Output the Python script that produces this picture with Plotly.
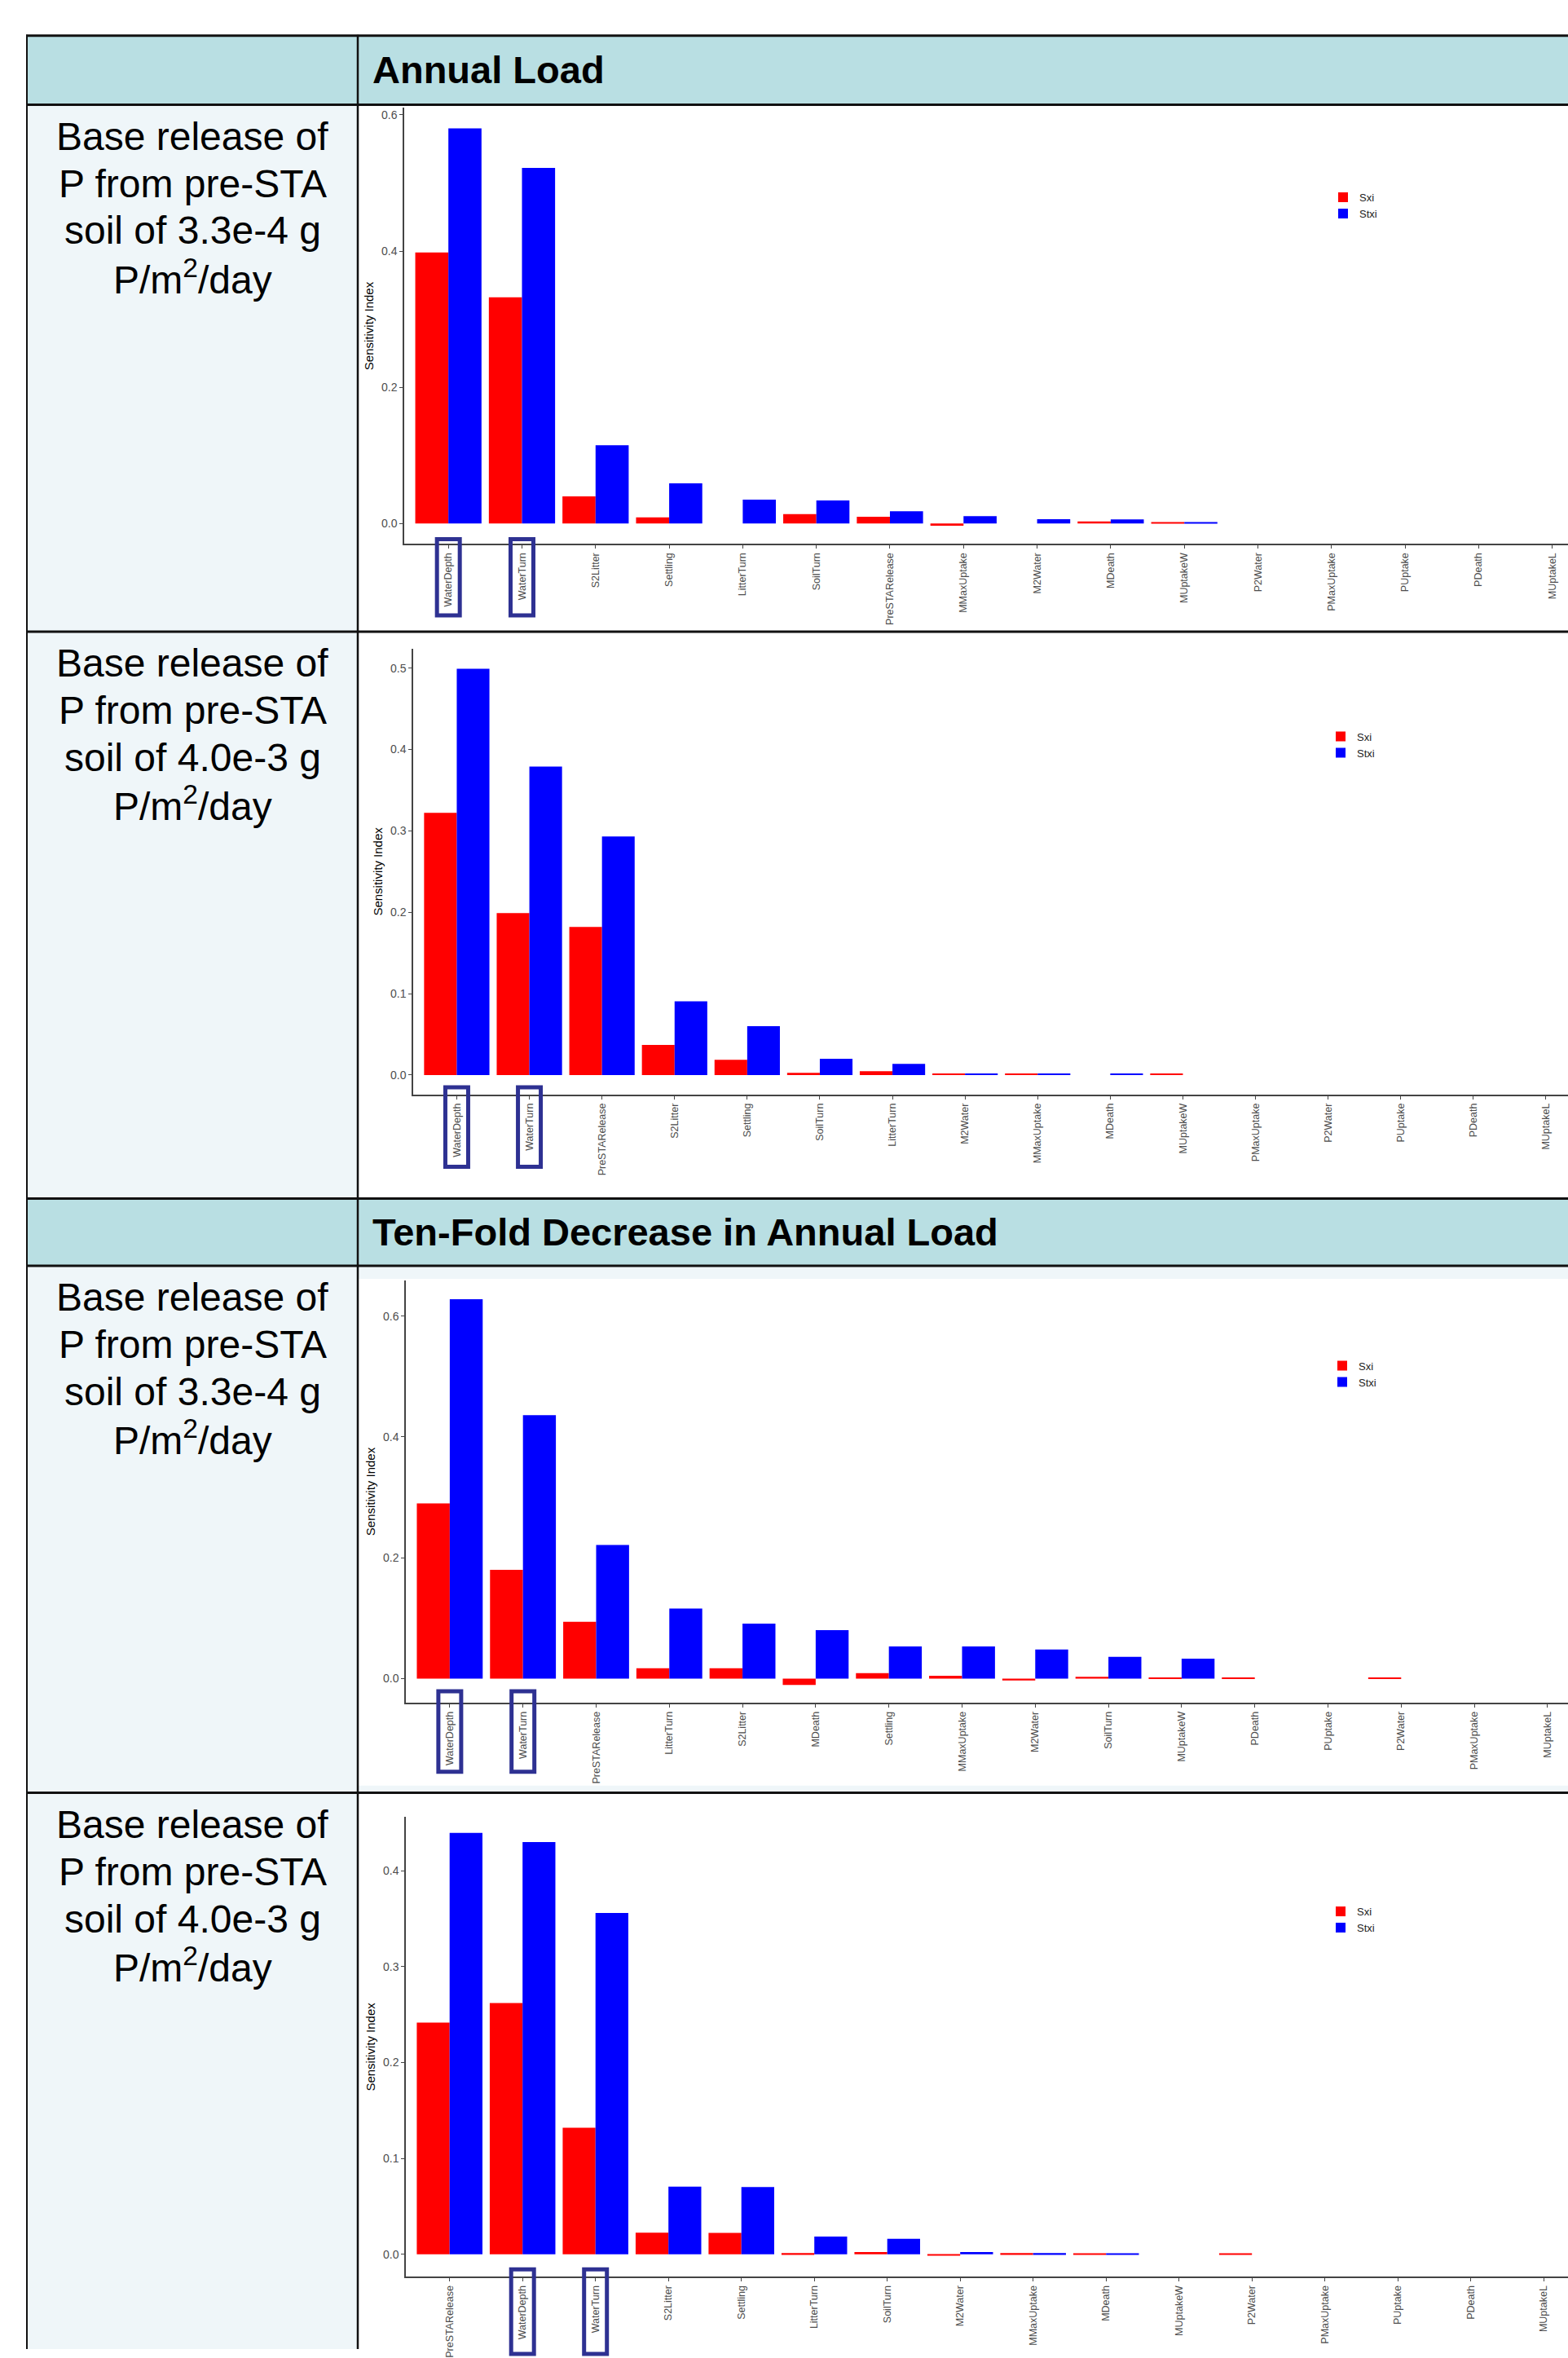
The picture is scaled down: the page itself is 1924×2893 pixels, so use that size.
import plotly.graph_objects as go

W, H = 1924, 2893

# ---------------- data ----------------
cats1 = ["WaterDepth", "WaterTurn", "S2Litter", "Settling", "LitterTurn", "SoilTurn",
         "PreSTARelease", "MMaxUptake", "M2Water", "MDeath", "MUptakeW", "P2Water",
         "PMaxUptake", "PUptake", "PDeath", "MUptakeL"]
sxi1 = [0.398, 0.332, 0.040, 0.009, 0.0, 0.014, 0.010, -0.003, 0.0, 0.003, 0.0015,
        0, 0, 0, 0, 0]
stxi1 = [0.580, 0.522, 0.115, 0.059, 0.035, 0.034, 0.018, 0.011, 0.0065, 0.006, 0.0015,
         0, 0, 0, 0, 0]

cats2 = ["WaterDepth", "WaterTurn", "PreSTARelease", "S2Litter", "Settling", "SoilTurn",
         "LitterTurn", "M2Water", "MMaxUptake", "MDeath", "MUptakeW", "PMaxUptake",
         "P2Water", "PUptake", "PDeath", "MUptakeL"]
sxi2 = [0.322, 0.199, 0.182, 0.037, 0.0186, 0.0026, 0.0047, 0.0018, 0.0018, 0.0, 0.0012,
        0, 0, 0, 0, 0]
stxi2 = [0.499, 0.379, 0.293, 0.0906, 0.060, 0.020, 0.0138, 0.0018, 0.0014, 0.0013, 0.0,
         0, 0, 0, 0, 0]

cats3 = ["WaterDepth", "WaterTurn", "PreSTARelease", "LitterTurn", "S2Litter", "MDeath",
         "Settling", "MMaxUptake", "M2Water", "SoilTurn", "MUptakeW", "PDeath", "PUptake",
         "P2Water", "PMaxUptake", "MUptakeL"]
sxi3 = [0.290, 0.180, 0.094, 0.017, 0.017, -0.0106, 0.0089, 0.0045, -0.0033, 0.0028,
        0.0012, 0.0012, 0, 0.0015, 0, 0]
stxi3 = [0.628, 0.436, 0.221, 0.116, 0.091, 0.080, 0.053, 0.053, 0.048, 0.036, 0.033,
         0, 0, 0, 0, 0]

cats4 = ["PreSTARelease", "WaterDepth", "WaterTurn", "S2Litter", "Settling", "LitterTurn",
         "SoilTurn", "M2Water", "MMaxUptake", "MDeath", "MUptakeW", "P2Water", "PMaxUptake",
         "PUptake", "PDeath", "MUptakeL"]
sxi4 = [0.2417, 0.262, 0.132, 0.0226, 0.0222, 0.0012, 0.0023, -0.0015, 0.0012, 0.0010, 0,
        0.0010, 0, 0, 0, 0]
stxi4 = [0.4397, 0.430, 0.356, 0.0705, 0.0701, 0.0185, 0.0162, 0.0022, 0.0012, 0.0010, 0,
         0, 0, 0, 0, 0]

boxed = ["WaterDepth", "WaterTurn"]
series_names = ["Sxi", "Stxi"]
section_titles = ["Annual Load", "Ten-Fold Decrease in Annual Load"]
label_a = ["Base release of", "P from pre-STA", "soil of 3.3e-4 g", "P/m<sup>2</sup>/day"]
label_b = ["Base release of", "P from pre-STA", "soil of 4.0e-3 g", "P/m<sup>2</sup>/day"]
row_labels = [label_a, label_b, label_a, label_b]

# ---------------- layout geometry (pixels) ----------------
panels = [
    dict(cats=cats1, sxi=sxi1, stxi=stxi1, ax=496, sp=90.3, top=133, bot=670,
         yr=[-0.030, 0.610], dt=0.2, leg=(1628, 228), box=(-6, 88)),
    dict(cats=cats2, sxi=sxi2, stxi=stxi2, ax=507, sp=89.1, top=799, bot=1348,
         yr=[-0.024, 0.5237], dt=0.1, leg=(1625, 892), box=(-9, 89)),
    dict(cats=cats3, sxi=sxi3, stxi=stxi3, ax=498, sp=89.8, top=1577, bot=2097,
         yr=[-0.040, 0.659], dt=0.2, leg=(1627, 1667), box=(-14, 85)),
    dict(cats=cats4, sxi=sxi4, stxi=stxi4, ax=498, sp=89.5, top=2238, bot=2804,
         yr=[-0.0235, 0.456], dt=0.1, leg=(1625, 2339), box=(-9, 95)),
]
row_tops = [129, 778, 1559, 2208]
line_offsets = [39, 97, 155, 212]

FONT = "Liberation Sans, Arial, sans-serif"
RED, BLUE = "#FF0000", "#0000FF"
NAVY = "#2E3192"
HEAD_BG = "#B9DFE3"
LEFT_BG = "#EFF6F9"


def py(p):
    return 1 - p / H


fig = go.Figure()
shapes = []
annotations = []

# table backgrounds
for (y0, y1) in [(44, 129), (1476, 1559)]:
    shapes.append(dict(type="rect", xref="paper", yref="paper", x0=33 / W, x1=1,
                       y0=py(y1), y1=py(y0), fillcolor=HEAD_BG, line_width=0, layer="below"))
for (y0, y1) in [(129, 778), (778, 1476), (1559, 2208), (2208, H)]:
    shapes.append(dict(type="rect", xref="paper", yref="paper", x0=33 / W, x1=439 / W,
                       y0=py(y1), y1=py(y0), fillcolor=LEFT_BG, line_width=0, layer="below"))
for (y0, y1) in [(1559, 1575), (2199, 2208)]:
    shapes.append(dict(type="rect", xref="paper", yref="paper", x0=439 / W, x1=1,
                       y0=py(y1), y1=py(y0), fillcolor=LEFT_BG, line_width=0, layer="below"))

# table lines
for yl in [44, 129, 778, 1476, 1559, 2208]:
    shapes.append(dict(type="line", xref="paper", yref="paper", x0=32 / W, x1=1,
                       y0=py(yl), y1=py(yl), line=dict(color="#111111", width=3)))
for xl, wdt in [(33, 2), (439, 2.5)]:
    shapes.append(dict(type="line", xref="paper", yref="paper", x0=xl / W, x1=xl / W,
                       y0=0, y1=py(43), line=dict(color="#111111", width=wdt)))

# section titles
for t, yc in zip(section_titles, [86, 1517]):
    annotations.append(dict(text="<b>%s</b>" % t, xref="paper", yref="paper", x=455 / W,
                            y=py(yc), xanchor="left", yanchor="middle", showarrow=False,
                            font=dict(family=FONT, size=47, color="#000000")))
# row labels (one annotation per line for exact spacing)
for lines, y0 in zip(row_labels, row_tops):
    for ln, off in zip(lines, line_offsets):
        annotations.append(dict(text=ln, xref="paper", yref="paper", x=236 / W,
                                y=py(y0 + off), xanchor="center", yanchor="middle",
                                showarrow=False,
                                font=dict(family=FONT, size=48, color="#000000")))

for i, p in enumerate(panels):
    n = i + 1
    xa = "x" if n == 1 else "x%d" % n
    ya = "y" if n == 1 else "y%d" % n
    lg = "legend" if n == 1 else "legend%d" % n
    for name, vals, col in zip(series_names, [p["sxi"], p["stxi"]], [RED, BLUE]):
        fig.add_trace(go.Bar(x=p["cats"], y=vals, name=name, marker_color=col,
                             marker_line_width=0, xaxis=xa, yaxis=ya, legend=lg,
                             showlegend=True))
    xr = [-0.6, -0.6 + (W - p["ax"]) / p["sp"]]
    xkey = "xaxis" if n == 1 else "xaxis%d" % n
    ykey = "yaxis" if n == 1 else "yaxis%d" % n
    fig.layout[xkey] = dict(domain=[p["ax"] / W, 1.0], anchor=ya, type="category",
                            categoryorder="array", categoryarray=p["cats"], range=xr,
                            showline=True, linecolor="#444444", linewidth=1.5,
                            ticks="outside", ticklen=4, tickcolor="#444444",
                            tickangle=-90, showgrid=False, zeroline=False,
                            tickfont=dict(family=FONT, size=12.5, color="#4D4D4D"))
    fig.layout[ykey] = dict(domain=[py(p["bot"]), py(p["top"])], anchor=xa,
                            range=p["yr"], dtick=p["dt"], tick0=0, tickformat=".1f",
                            showline=True, linecolor="#444444", linewidth=1.5,
                            ticks="outside", ticklen=4, tickcolor="#444444",
                            showgrid=False, zeroline=False,
                            tickfont=dict(family=FONT, size=14, color="#4D4D4D"),
                            title=dict(text="Sensitivity Index", standoff=6,
                                       font=dict(family=FONT, size=15, color="#000000")))
    fig.layout[lg] = dict(x=p["leg"][0] / W, y=py(p["leg"][1]), xanchor="left",
                          yanchor="top", bgcolor="rgba(0,0,0,0)", tracegroupgap=0,
                          font=dict(family=FONT, size=13, color="#222222"))
    # boxes around highlighted tick labels
    for b in boxed:
        k = p["cats"].index(b)
        hw = 14 / p["sp"]
        shapes.append(dict(type="rect", xref=xa, yref="paper", x0=k - hw, x1=k + hw,
                           y0=py(p["bot"] + p["box"][1]), y1=py(p["bot"] + p["box"][0]),
                           line=dict(color=NAVY, width=5), fillcolor="rgba(0,0,0,0)"))

fig.update_layout(width=W, height=H, margin=dict(l=0, r=0, t=0, b=0),
                  paper_bgcolor="white", plot_bgcolor="white", barmode="group",
                  bargap=0.1, bargroupgap=0, shapes=shapes, annotations=annotations,
                  font=dict(family=FONT))

fig.write_html("out.html", config={"displayModeBar": False},
               post_script="document.body.style.margin='0';"
                           "document.body.style.overflow='hidden';")
